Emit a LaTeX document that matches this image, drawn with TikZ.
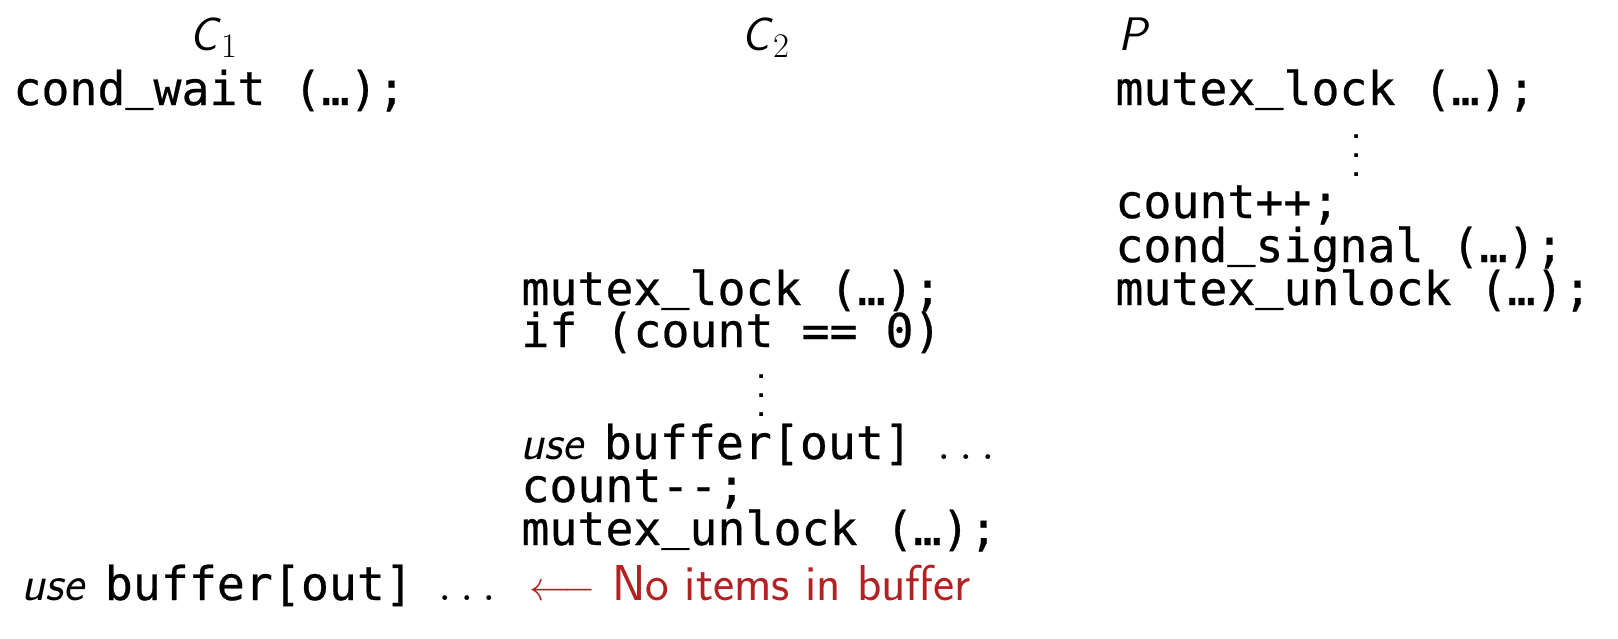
\documentclass[tikz,border=0pt]{standalone}
\usepackage{fontspec}
\setmonofont{DejaVu Sans Mono}[Scale=0.99,FakeBold=0.5]
\definecolor{alertred}{RGB}{178,34,34}
\newcommand\mydotcol{\vbox{\baselineskip=9.5pt\lineskiplimit=0pt\hbox{.}\hbox{.}\hbox{.}}}
\newcommand\myfs{\fontsize{23.5pt}{28pt}\selectfont}
\newcommand\us{\raisebox{0.13em}{\_}}
\newcommand\usekw{{\fontsize{24.8pt}{28pt}\selectfont\sffamily\itshape use\hspace{0.42em}}}
\newcommand\mydots{{\fontsize{23.5pt}{28pt}\selectfont\sffamily\hspace{0.55em}$\ldots$}}
\tikzset{
  code/.style={anchor=base west, inner sep=0pt, font=\myfs\ttfamily},
  head/.style={anchor=base west, inner sep=0pt, font=\myfs\sffamily},
  alertnote/.style={anchor=base west, inner sep=0pt, text=alertred, font=\fontsize{25.2pt}{28pt}\selectfont\sffamily},
  dotcol/.style={inner sep=0pt, font=\myfs\sffamily},
}
\begin{document}
\begin{tikzpicture}[x=0.5pt,y=-0.5pt]
\useasboundingbox (0,0) rectangle (1618,638);
% headers
\node[head] (hc1) at (189,50) {\textit{C}$_1$};
\node[head] (hc2) at (741,50) {\textit{C}$_2$};
\node[head] (hp)  at (1118,50) {\textit{P}};
% C1
\node[code] (c1wait) at (13,105) {cond\us wait (…);};
\node[code] (c1use) at (21,600) {\usekw{}buffer[out]\mydots};
% C2
\node[code] (c2lock) at (521,305) {mutex\us lock (…);};
\node[code] (c2if) at (521,347) {if (count == 0)};
\node[dotcol] (c2dots) at (762,396) {\mydotcol};
\node[code] (c2use) at (520,459) {\usekw{}buffer[out]\mydots};
\node[code] (c2dec) at (521,502) {count-{}-;};
\node[code] (c2unlock) at (521,545) {mutex\us unlock (…);};
% P
\node[code] (plock) at (1115,105) {mutex\us lock (…);};
\node[dotcol] (pdots) at (1357,156) {\mydotcol};
\node[code] (pinc) at (1115,218) {count++;};
\node[code] (psig) at (1115,262) {cond\us signal (…);};
\node[code] (punlock) at (1115,305) {mutex\us unlock (…);};
% note
\node[alertnote] (note) at (529,600) {{\fontsize{21.5pt}{28pt}\selectfont$\longleftarrow$} No items in buffer};
\end{tikzpicture}
\end{document}
